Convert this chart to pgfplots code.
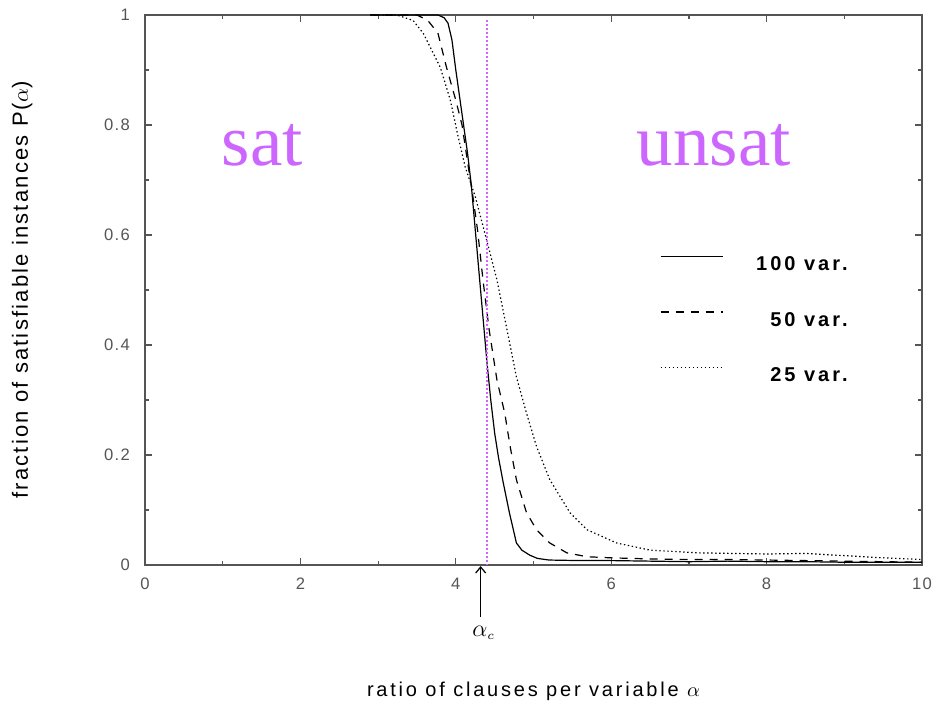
\documentclass[border=0pt]{standalone}
\usepackage{fontspec}
\setmainfont{Liberation Sans}
\newfontfamily\seriffont{Liberation Serif}
\usepackage{pgfplots}
\pgfplotsset{compat=1.18}
\usetikzlibrary{arrows.meta}
\definecolor{satcol}{RGB}{204,102,255}
\definecolor{axgray}{RGB}{85,85,85}

\begin{document}
\begin{tikzpicture}
\begin{axis}[
    scale only axis,
    width=388.5pt, height=275pt,
    xmin=0, xmax=10, ymin=0, ymax=1,
    xtick={0,2,4,6,8,10},
    minor xtick={1,3,5,7,9},
    ytick={0,0.2,0.4,0.6,0.8,1},
    minor ytick={0.1,0.3,0.5,0.7,0.9},
    tick align=inside,
    major tick length=3.5pt, minor tick length=2pt,
    axis line style={axgray, line width=0.8pt},
    every tick/.style={axgray, line width=0.6pt},
    tick label style={font=\fontsize{8.3}{10}\selectfont\addfontfeature{LetterSpace=8}, text=axgray},
    /pgf/number format/assume math mode=true,
    xticklabel style={yshift=-3pt},
    yticklabel style={xshift=-4pt},
    clip=false,
    xlabel={\addfontfeature{LetterSpace=14}ratio of clauses per variable $\alpha$},
    ylabel={\addfontfeature{LetterSpace=10}fraction of satisfiable instances P($\alpha$)},
    every axis x label/.style={at={(axis description cs:0.5,-0.24)}, anchor=base, font=\fontsize{10}{12}\selectfont},
    every axis y label/.style={at={(axis description cs:-0.158,0.5)}, anchor=center, rotate=90, font=\fontsize{11}{13}\selectfont},
    legend cell align=right,
    legend image code/.code={\draw[#1] (0pt,3.5pt) -- (31pt,3.5pt);},
    legend style={draw=none, fill=none, inner sep=0pt, outer sep=0pt,
        at={(axis cs:6.628,0.562)}, anchor=north west,
        row sep=20.5pt, column sep=16.5pt,
        nodes={inner sep=0pt, text height=7pt, text depth=0pt,
            font=\fontsize{10}{11}\selectfont\bfseries\addfontfeature{LetterSpace=15}}},
]
% 100 variables
\addplot[black, line width=0.6pt] coordinates {
    (2.9,1) (3.5,1) (3.77,1) (3.85,0.995) (3.9,0.985) (3.95,0.955)
    (4.0,0.9) (4.05,0.85) (4.1,0.8) (4.15,0.75) (4.2,0.69)
    (4.25,0.61) (4.3,0.53) (4.35,0.45) (4.4,0.37) (4.45,0.30)
    (4.5,0.24) (4.55,0.195) (4.61,0.15) (4.69,0.095) (4.78,0.04)
    (4.85,0.027) (4.95,0.018) (5.05,0.012) (5.2,0.009) (5.6,0.008)
    (6.0,0.008) (6.5,0.007) (7.0,0.006) (7.5,0.007) (8.0,0.006)
    (8.5,0.006) (9.0,0.005) (9.5,0.005) (10,0.005)
};
% 50 variables
\addplot[black, line width=0.6pt, dash pattern=on 4pt off 3.5pt] coordinates {
    (2.9,1) (3.5,1) (3.64,0.99) (3.77,0.967) (3.88,0.905) (4.0,0.845)
    (4.08,0.80) (4.16,0.725) (4.22,0.67) (4.28,0.609) (4.35,0.518)
    (4.43,0.427) (4.53,0.336) (4.63,0.276) (4.70,0.215) (4.78,0.155)
    (4.91,0.095) (5.04,0.064) (5.21,0.04) (5.43,0.022) (5.69,0.015)
    (6.0,0.013) (6.5,0.011) (7.0,0.01) (7.5,0.01) (8.0,0.009)
    (8.5,0.008) (9.0,0.007) (9.5,0.006) (10,0.005)
};
% 25 variables
\addplot[black, line width=0.6pt, dash pattern=on 0.7pt off 1.3pt] coordinates {
    (2.9,1) (3.24,1) (3.45,0.99) (3.58,0.967) (3.80,0.905) (3.93,0.845)
    (4.02,0.785) (4.12,0.724) (4.25,0.67) (4.38,0.6) (4.53,0.518)
    (4.66,0.427) (4.78,0.342) (4.91,0.276) (5.04,0.215) (5.21,0.155)
    (5.47,0.095) (5.69,0.064) (6.07,0.04) (6.5,0.027) (7.14,0.022)
    (8.0,0.02) (8.5,0.021) (9.0,0.017) (9.5,0.013) (10,0.01)
};
\legend{100 var., 50 var., 25 var.}
% critical ratio line
\addplot[satcol, line width=0.7pt, dash pattern=on 0.7pt off 1.3pt, forget plot] coordinates {
    (4.4,0.99) (4.4,0)
};
\node[anchor=base, text=satcol, font=\seriffont\fontsize{36.5}{40}\selectfont] at (axis cs:1.51,0.727) {sat};
\node[anchor=base, text=satcol, font=\seriffont\fontsize{36.5}{40}\selectfont] at (axis cs:7.32,0.727) {unsat};
\draw[black, line width=0.6pt, -{Straight Barb[length=3pt, width=5pt]}] (axis cs:4.32,-0.095) -- (axis cs:4.32,-0.002);
\node[font=\fontsize{13}{15}\selectfont] at (axis cs:4.36,-0.123) {$\alpha_{\scriptscriptstyle c}$};
\coordinate (bbll) at (rel axis cs:-0.18662,-0.25273);
\coordinate (bbur) at (rel axis cs:1.01802,1.02727);
\end{axis}
\pgfresetboundingbox
\useasboundingbox (bbll) rectangle (bbur);
\end{tikzpicture}
\end{document}
